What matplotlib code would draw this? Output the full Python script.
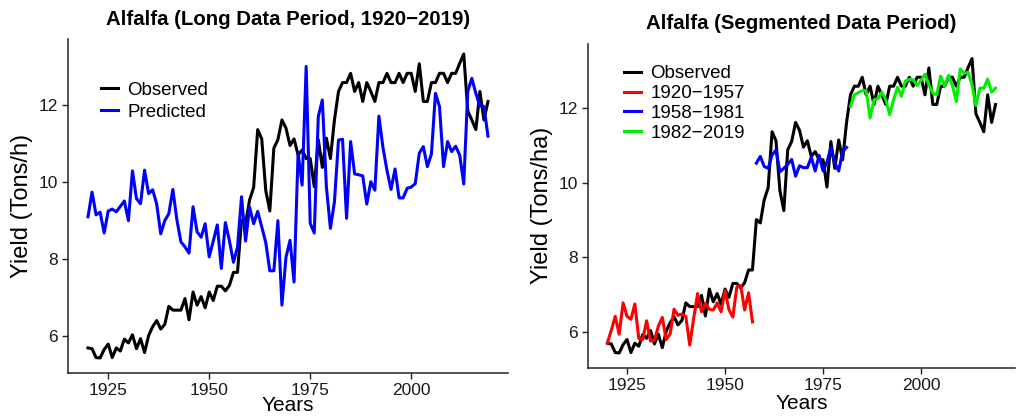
import numpy as np
import matplotlib
matplotlib.use("Agg")
import matplotlib.pyplot as plt

plt.rcParams['font.family'] = ['Liberation Sans', 'DejaVu Sans']

years = np.arange(1920, 2020)

# observed alfalfa yield, 1920-2019
observed = [
    5.70, 5.68, 5.45, 5.44, 5.66, 5.80, 5.45, 5.70, 5.62, 5.93,
    5.83, 6.04, 5.68, 5.94, 5.58, 6.02, 6.25, 6.41, 6.19, 6.31,
    6.78, 6.68, 6.68, 6.68, 6.98, 6.43, 7.15, 6.81, 7.03, 6.74,
    7.15, 6.93, 7.30, 7.30, 7.18, 7.32, 7.66, 7.66, 9.01, 8.92,
    9.54, 9.86, 11.36, 11.12, 9.78, 9.25, 10.88, 11.10, 11.61, 11.40,
    10.95, 11.12, 10.70, 10.83, 10.61, 10.61, 9.88, 11.10, 10.38, 11.14,
    10.61, 11.61, 12.35, 12.58, 12.58, 12.82, 12.35, 12.58, 12.09, 12.58,
    12.35, 12.09, 12.58, 12.58, 12.82, 12.58, 12.58, 12.82, 12.58, 12.82,
    12.82, 12.35, 13.07, 12.09, 12.09, 12.58, 12.58, 12.82, 12.82, 12.58,
    12.82, 12.82, 13.08, 13.32, 11.84, 11.61, 11.36, 12.35, 11.61, 12.09,
]

# prediction from the model fitted on the whole period
predicted = [
    9.10, 9.74, 9.15, 9.22, 8.68, 9.25, 9.30, 9.23, 9.37, 9.51,
    9.00, 10.29, 9.57, 9.44, 10.31, 9.70, 9.80, 9.43, 8.66, 9.00,
    9.18, 9.81, 9.02, 8.45, 8.32, 8.16, 9.36, 8.71, 8.57, 8.92,
    8.06, 8.47, 8.89, 7.76, 8.95, 8.48, 7.92, 8.31, 9.62, 8.47,
    9.35, 8.92, 9.24, 8.84, 8.43, 7.70, 7.70, 9.00, 6.81, 8.05,
    8.49, 7.41, 10.75, 9.92, 13.00, 8.93, 8.68, 11.70, 12.13, 9.88,
    8.80, 9.49, 11.09, 11.11, 9.06, 11.05, 10.21, 10.19, 10.16, 9.43,
    10.01, 9.79, 11.71, 10.90, 10.30, 9.81, 10.34, 9.59, 9.59, 9.84,
    9.87, 9.96, 10.75, 10.92, 10.40, 10.73, 12.30, 11.96, 10.40, 11.05,
    10.79, 10.93, 10.70, 9.95, 12.35, 12.69, 12.30, 11.97, 11.96, 11.19,
]

# predictions from the three segment models
seg1_years = np.arange(1920, 1958)
seg1 = [
    5.71, 6.05, 6.42, 5.94, 6.78, 6.42, 6.34, 6.75, 5.83, 5.80,
    6.30, 5.76, 5.78, 6.16, 6.39, 5.80, 5.95, 6.61, 6.45, 6.48,
    6.42, 5.65, 6.36, 7.03, 6.54, 6.77, 6.61, 6.59, 6.78, 6.54,
    7.11, 6.60, 6.40, 7.20, 7.24, 6.59, 7.05, 6.27,
]
seg2_years = np.arange(1958, 1982)
seg2 = [
    10.52, 10.70, 10.43, 10.38, 10.74, 10.87, 10.29, 10.38, 10.49, 10.62,
    10.17, 10.45, 10.40, 10.40, 10.68, 10.31, 10.73, 10.31, 10.55, 10.94,
    10.53, 10.31, 10.84, 10.94,
]
seg3_years = np.arange(1982, 2020)
seg3 = [
    12.04, 12.35, 12.41, 12.46, 12.46, 11.73, 12.22, 12.25, 12.42, 12.22,
    11.82, 12.22, 12.55, 12.31, 12.72, 12.76, 12.75, 12.60, 12.74, 12.90,
    12.62, 12.39, 12.35, 12.85, 12.58, 12.87, 12.60, 12.17, 13.04, 12.93,
    12.95, 12.62, 12.06, 12.53, 12.53, 12.77, 12.42, 12.53,
]

LW = 2.2


def style_axes(ax, ylabel, xpad):
    ax.spines['top'].set_visible(False)
    ax.spines['right'].set_visible(False)
    for s in ('left', 'bottom'):
        ax.spines[s].set_linewidth(1.1)
        ax.spines[s].set_color('#222222')
    ax.set_xlim(1915.05, 2023.95)
    ax.set_ylim(5.05, 13.71)
    ax.set_xticks([1925, 1950, 1975, 2000])
    ax.set_yticks([6, 8, 10, 12])
    ax.tick_params(labelsize=12.5, length=4, width=1, colors='#222222',
                   labelcolor='#1a1a1a')
    ax.set_xlabel('Years', fontsize=15, labelpad=xpad)
    ax.set_ylabel(ylabel, fontsize=17, labelpad=4)


fig = plt.figure(figsize=(10.18, 4.17), dpi=100)

# left: single model over the full record
ax1 = fig.add_axes([0.0668, 0.1055, 0.4322, 0.801])
ax1.plot(years, observed, color='black', lw=LW, label='Observed')
ax1.plot(years, predicted, color='#0000FF', lw=LW, label='Predicted')
style_axes(ax1, 'Yield (Tons/h)', xpad=-1.5)
ax1.set_title('Alfalfa (Long Data Period, 1920\u22122019)',
              fontsize=14.7, fontweight='bold', pad=10)
ax1.legend(loc='upper left', bbox_to_anchor=(0.075, 0.873), frameon=False,
           fontsize=13.5, handlelength=0.9, handletextpad=0.5,
           labelspacing=0.28, borderpad=0, borderaxespad=0)

# right: separate models per segment
ax2 = fig.add_axes([0.5776, 0.1187, 0.4194, 0.7758])
ax2.plot(years, observed, color='black', lw=LW, label='Observed')
ax2.plot(seg1_years, seg1, color='#FF0000', lw=LW, label='1920\u22121957')
ax2.plot(seg2_years, seg2, color='#0000FF', lw=LW, label='1958\u22121981')
ax2.plot(seg3_years, seg3, color='#00EE00', lw=LW, label='1982\u22122019')
style_axes(ax2, 'Yield (Tons/ha)', xpad=1)
ax2.set_title('Alfalfa (Segmented Data Period)',
              fontsize=14.7, fontweight='bold', pad=11)
ax2.legend(loc='upper left', bbox_to_anchor=(0.085, 0.935), frameon=False,
           fontsize=13.5, handlelength=0.9, handletextpad=0.5,
           labelspacing=0.15, borderpad=0, borderaxespad=0)

fig.savefig('out.png', dpi=100)
